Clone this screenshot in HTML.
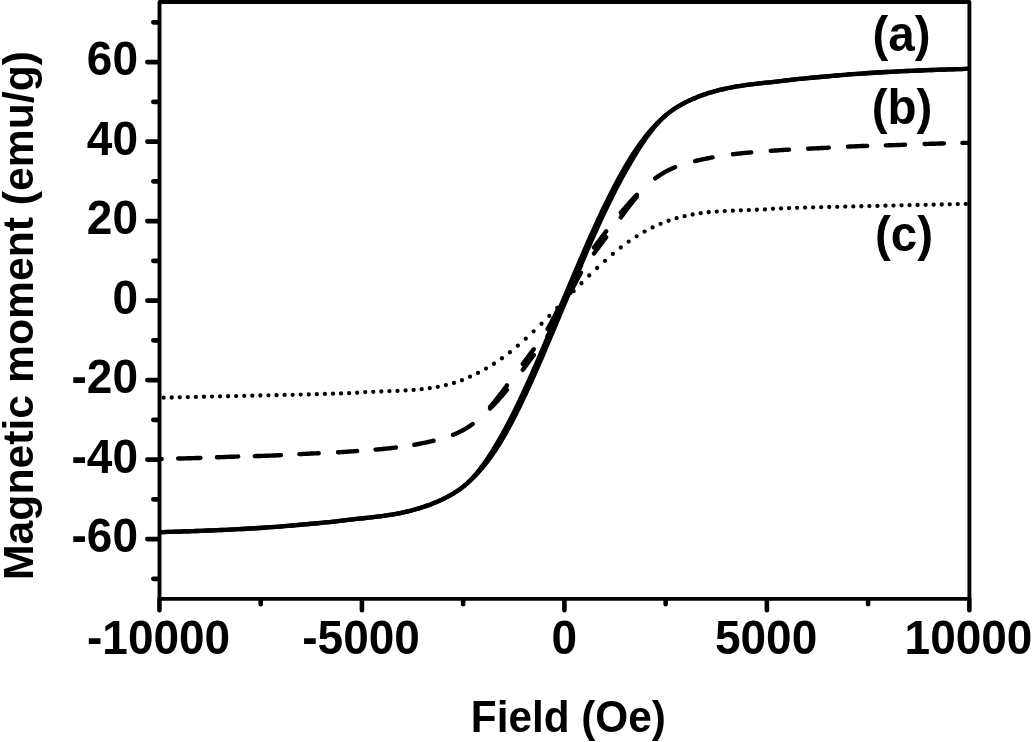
<!DOCTYPE html>
<html lang="en"><head><meta charset="utf-8"><title>Magnetic moment vs Field</title>
<style>html,body{margin:0;padding:0;background:#fff;}body{width:1032px;height:742px;overflow:hidden;}svg{display:block;filter:blur(0.4px);}text{font-family:"Liberation Sans",sans-serif;font-weight:bold;fill:#000;}</style>
</head><body>
<svg width="1032" height="742" viewBox="0 0 1032 742">
<rect x="0" y="0" width="1032" height="742" fill="#fff"/>
<g fill="none" stroke="#000" stroke-linejoin="round">
<path d="M159.50 532.20 L163.65 532.08 L167.80 531.96 L171.95 531.83 L176.10 531.70 L180.25 531.56 L184.41 531.42 L188.56 531.28 L192.71 531.13 L196.86 530.98 L201.01 530.83 L205.16 530.67 L209.31 530.51 L213.46 530.34 L217.61 530.17 L221.76 529.99 L225.91 529.81 L230.06 529.61 L234.22 529.41 L238.37 529.20 L242.52 528.98 L246.67 528.75 L250.82 528.51 L254.97 528.26 L259.12 528.00 L263.27 527.74 L267.42 527.46 L271.57 527.17 L275.72 526.87 L279.87 526.55 L284.03 526.21 L288.18 525.86 L292.33 525.50 L296.48 525.13 L300.63 524.75 L304.78 524.38 L308.93 524.00 L313.08 523.62 L317.23 523.24 L321.38 522.85 L325.53 522.45 L329.68 522.03 L333.84 521.60 L337.99 521.15 L342.14 520.65 L346.29 520.14 L350.44 519.64 L354.59 519.16 L358.74 518.70 L362.89 518.26 L367.04 517.83 L371.20 517.38 L375.35 516.90 L379.50 516.39 L383.66 515.83 L387.81 515.22 L391.97 514.56 L396.13 513.83 L400.30 513.02 L404.47 512.14 L406.48 511.68 L407.81 511.37 L409.14 511.05 L410.47 510.71 L411.80 510.37 L413.14 510.02 L414.47 509.66 L415.81 509.28 L417.14 508.90 L418.48 508.50 L419.82 508.09 L421.16 507.68 L422.50 507.25 L423.84 506.80 L425.19 506.35 L426.53 505.88 L427.88 505.40 L429.23 504.91 L430.58 504.40 L431.93 503.88 L433.28 503.35 L434.63 502.80 L435.99 502.24 L437.34 501.66 L438.70 501.07 L440.06 500.46 L441.42 499.84 L442.78 499.20 L444.14 498.54 L445.51 497.86 L446.87 497.16 L448.24 496.44 L449.60 495.70 L450.97 494.92 L452.34 494.13 L453.70 493.30 L455.07 492.44 L456.44 491.55 L457.80 490.63 L459.15 489.68 L460.50 488.69 L461.84 487.66 L463.18 486.59 L464.51 485.49 L465.84 484.34 L467.16 483.15 L468.48 481.92 L469.79 480.64 L471.10 479.31 L472.40 477.94 L473.70 476.53 L474.99 475.07 L476.28 473.56 L477.57 472.02 L478.85 470.43 L480.14 468.79 L481.41 467.12 L482.69 465.41 L483.96 463.65 L485.23 461.86 L486.50 460.03 L487.77 458.15 L489.03 456.24 L490.30 454.29 L491.57 452.31 L492.83 450.29 L494.10 448.23 L495.36 446.14 L496.63 444.02 L497.90 441.86 L499.17 439.66 L500.44 437.44 L501.72 435.18 L503.00 432.88 L504.28 430.56 L505.56 428.21 L506.85 425.82 L508.13 423.41 L509.41 420.96 L510.69 418.49 L511.97 415.98 L513.25 413.45 L514.53 410.89 L515.80 408.30 L517.08 405.69 L518.36 403.05 L519.63 400.38 L520.91 397.69 L522.19 394.97 L523.47 392.23 L524.75 389.46 L526.02 386.67 L527.30 383.86 L528.59 381.03 L529.87 378.17 L531.15 375.29 L532.44 372.39 L533.72 369.46 L535.01 366.52 L536.30 363.56 L537.59 360.59 L538.88 357.59 L540.17 354.58 L541.46 351.56 L542.76 348.52 L544.05 345.47 L545.35 342.40 L546.65 339.33 L547.95 336.24 L549.25 333.15 L550.56 330.05 L551.86 326.94 L553.17 323.82 L554.47 320.70 L555.78 317.58 L557.09 314.45 L558.40 311.32 L559.71 308.21 L561.02 305.12 L562.33 302.04 L563.65 298.96 L564.96 295.88 L566.27 292.79 L567.59 289.68 L568.91 286.55 L570.22 283.42 L571.54 280.30 L572.86 277.18 L574.17 274.06 L575.49 270.95 L576.81 267.85 L578.13 264.76 L579.45 261.67 L580.77 258.60 L582.09 255.53 L583.41 252.48 L584.73 249.44 L586.05 246.42 L587.37 243.41 L588.69 240.41 L590.01 237.44 L591.33 234.48 L592.65 231.54 L593.98 228.61 L595.30 225.71 L596.62 222.83 L597.94 219.97 L599.26 217.14 L600.58 214.33 L601.91 211.54 L603.23 208.77 L604.55 206.03 L605.87 203.31 L607.19 200.62 L608.52 197.95 L609.84 195.31 L611.16 192.70 L612.48 190.11 L613.80 187.55 L615.13 185.02 L616.45 182.51 L617.77 180.04 L619.09 177.59 L620.41 175.18 L621.74 172.79 L623.06 170.44 L624.39 168.12 L625.72 165.82 L627.05 163.56 L628.40 161.34 L629.74 159.14 L631.10 156.98 L632.45 154.86 L633.81 152.77 L635.18 150.71 L636.55 148.69 L637.92 146.71 L639.29 144.76 L640.66 142.85 L642.04 140.97 L643.42 139.14 L644.80 137.35 L646.18 135.59 L647.56 133.88 L648.94 132.21 L650.32 130.57 L651.71 128.98 L653.09 127.44 L654.47 125.93 L655.84 124.47 L657.22 123.06 L658.59 121.69 L659.97 120.36 L661.33 119.08 L662.70 117.85 L664.06 116.66 L665.42 115.51 L666.78 114.41 L668.13 113.34 L669.47 112.31 L670.81 111.32 L672.15 110.37 L673.48 109.45 L674.80 108.56 L676.12 107.70 L677.45 106.87 L678.77 106.08 L680.09 105.30 L681.41 104.56 L682.73 103.84 L684.06 103.14 L685.38 102.46 L686.70 101.80 L688.02 101.16 L689.35 100.54 L690.67 99.93 L691.99 99.34 L693.31 98.76 L694.63 98.20 L695.96 97.65 L697.28 97.12 L698.60 96.60 L699.92 96.09 L701.25 95.60 L702.57 95.12 L703.89 94.65 L705.21 94.20 L706.53 93.75 L707.86 93.32 L709.18 92.91 L710.50 92.50 L711.82 92.10 L713.14 91.72 L714.47 91.34 L715.79 90.98 L717.11 90.63 L718.43 90.29 L719.76 89.95 L721.08 89.63 L722.40 89.32 L724.40 88.86 L728.55 87.98 L732.71 87.17 L736.86 86.44 L741.01 85.77 L745.16 85.17 L749.32 84.61 L753.47 84.10 L757.62 83.62 L761.77 83.17 L765.93 82.73 L770.08 82.29 L774.23 81.84 L778.38 81.36 L782.54 80.85 L786.69 80.35 L790.84 79.85 L794.99 79.39 L799.15 78.96 L803.30 78.55 L807.45 78.15 L811.60 77.76 L815.76 77.38 L819.91 77.00 L824.06 76.62 L828.21 76.24 L832.37 75.87 L836.52 75.50 L840.67 75.13 L844.82 74.78 L848.98 74.45 L853.13 74.12 L857.28 73.82 L861.43 73.54 L865.59 73.26 L869.74 72.99 L873.89 72.73 L878.04 72.49 L882.20 72.25 L886.35 72.02 L890.50 71.80 L894.65 71.59 L898.81 71.38 L902.96 71.19 L907.11 71.01 L911.26 70.83 L915.42 70.65 L919.57 70.49 L923.72 70.33 L927.87 70.17 L932.03 70.02 L936.18 69.86 L940.33 69.72 L944.48 69.57 L948.64 69.43 L952.79 69.30 L956.94 69.17 L961.09 69.04 L965.25 68.92 L969.40 68.80" stroke-width="4.3" stroke-linecap="butt"/>
<path d="M159.50 532.20 L163.65 532.08 L167.80 531.96 L171.95 531.83 L176.10 531.70 L180.25 531.56 L184.41 531.42 L188.56 531.28 L192.71 531.13 L196.86 530.98 L201.01 530.83 L205.16 530.67 L209.31 530.51 L213.46 530.34 L217.61 530.17 L221.76 529.99 L225.91 529.81 L230.06 529.61 L234.22 529.41 L238.37 529.20 L242.52 528.98 L246.67 528.75 L250.82 528.51 L254.97 528.26 L259.12 528.00 L263.27 527.74 L267.42 527.46 L271.57 527.17 L275.72 526.87 L279.87 526.55 L284.03 526.21 L288.18 525.86 L292.33 525.50 L296.48 525.13 L300.63 524.75 L304.78 524.38 L308.93 524.00 L313.08 523.62 L317.23 523.24 L321.38 522.85 L325.53 522.45 L329.68 522.03 L333.84 521.60 L337.99 521.15 L342.14 520.65 L346.29 520.14 L350.44 519.64 L354.59 519.16 L358.74 518.70 L362.89 518.26 L367.04 517.83 L371.20 517.38 L375.35 516.90 L379.50 516.39 L383.66 515.83 L387.81 515.22 L391.97 514.56 L396.13 513.83 L400.30 513.02 L404.47 512.14 L406.48 511.68 L407.81 511.37 L409.14 511.05 L410.47 510.71 L411.80 510.37 L413.14 510.02 L414.47 509.66 L415.81 509.28 L417.14 508.90 L418.48 508.50 L419.82 508.09 L421.16 507.68 L422.50 507.25 L423.84 506.80 L425.19 506.35 L426.53 505.88 L427.88 505.40 L429.23 504.91 L430.58 504.40 L431.93 503.88 L433.28 503.35 L434.63 502.80 L435.99 502.24 L437.34 501.66 L438.70 501.07 L440.06 500.46 L441.42 499.84 L442.78 499.20 L444.14 498.54 L445.51 497.86 L446.87 497.16 L448.24 496.44 L449.60 495.70 L450.97 494.92 L452.34 494.13 L453.70 493.30 L455.07 492.44 L456.44 491.55 L457.81 490.63 L459.19 489.68 L460.58 488.69 L461.97 487.66 L463.36 486.59 L464.76 485.49 L466.16 484.34 L467.56 483.15 L468.97 481.92 L470.37 480.64 L471.78 479.31 L473.19 477.94 L474.59 476.53 L476.00 475.07 L477.40 473.56 L478.81 472.02 L480.21 470.43 L481.61 468.79 L483.01 467.12 L484.40 465.41 L485.79 463.65 L487.18 461.86 L488.56 460.03 L489.94 458.15 L491.31 456.24 L492.67 454.29 L494.04 452.31 L495.39 450.29 L496.74 448.23 L498.08 446.14 L499.42 444.02 L500.75 441.86 L502.07 439.66 L503.38 437.44 L504.69 435.18 L505.99 432.88 L507.28 430.56 L508.56 428.21 L509.85 425.82 L511.13 423.41 L512.41 420.96 L513.69 418.49 L514.97 415.98 L516.25 413.45 L517.53 410.89 L518.80 408.30 L520.08 405.69 L521.36 403.05 L522.63 400.38 L523.91 397.69 L525.19 394.97 L526.47 392.23 L527.75 389.46 L529.02 386.67 L530.30 383.86 L531.59 381.03 L532.87 378.17 L534.15 375.29 L535.44 372.39 L536.72 369.46 L538.01 366.52 L539.30 363.56 L540.59 360.59 L541.88 357.59 L543.17 354.58 L544.46 351.56 L545.76 348.52 L547.05 345.47 L548.35 342.40 L549.65 339.33 L550.95 336.24 L552.25 333.15 L553.56 330.05 L554.86 326.94 L556.17 323.82 L557.47 320.70 L558.78 317.58 L560.09 314.45 L561.40 311.32 L562.71 308.21 L564.02 305.12 L565.33 302.04 L566.65 298.96 L567.96 295.88 L569.27 292.79 L570.59 289.68 L571.91 286.55 L573.22 283.42 L574.54 280.30 L575.86 277.18 L577.17 274.06 L578.49 270.95 L579.81 267.85 L581.13 264.76 L582.45 261.67 L583.77 258.60 L585.09 255.53 L586.41 252.48 L587.73 249.44 L589.05 246.42 L590.37 243.41 L591.69 240.41 L593.01 237.44 L594.33 234.48 L595.65 231.54 L596.98 228.61 L598.30 225.71 L599.62 222.83 L600.94 219.97 L602.26 217.14 L603.58 214.33 L604.91 211.54 L606.23 208.77 L607.55 206.03 L608.87 203.31 L610.19 200.62 L611.52 197.95 L612.84 195.31 L614.16 192.70 L615.48 190.11 L616.80 187.55 L618.13 185.02 L619.45 182.51 L620.77 180.04 L622.09 177.59 L623.41 175.18 L624.74 172.79 L626.06 170.44 L627.38 168.12 L628.69 165.82 L630.00 163.56 L631.30 161.34 L632.59 159.14 L633.89 156.98 L635.17 154.86 L636.46 152.77 L637.74 150.71 L639.02 148.69 L640.29 146.71 L641.56 144.76 L642.83 142.85 L644.10 140.97 L645.36 139.14 L646.63 137.35 L647.89 135.59 L649.16 133.88 L650.42 132.21 L651.68 130.57 L652.94 128.98 L654.21 127.44 L655.47 125.93 L656.74 124.47 L658.01 123.06 L659.28 121.69 L660.55 120.36 L661.83 119.08 L663.10 117.85 L664.39 116.66 L665.67 115.51 L666.96 114.41 L668.25 113.34 L669.55 112.31 L670.86 111.32 L672.17 110.37 L673.48 109.45 L674.80 108.56 L676.12 107.70 L677.45 106.87 L678.77 106.08 L680.09 105.30 L681.41 104.56 L682.73 103.84 L684.06 103.14 L685.38 102.46 L686.70 101.80 L688.02 101.16 L689.35 100.54 L690.67 99.93 L691.99 99.34 L693.31 98.76 L694.63 98.20 L695.96 97.65 L697.28 97.12 L698.60 96.60 L699.92 96.09 L701.25 95.60 L702.57 95.12 L703.89 94.65 L705.21 94.20 L706.53 93.75 L707.86 93.32 L709.18 92.91 L710.50 92.50 L711.82 92.10 L713.14 91.72 L714.47 91.34 L715.79 90.98 L717.11 90.63 L718.43 90.29 L719.76 89.95 L721.08 89.63 L722.40 89.32 L724.40 88.86 L728.55 87.98 L732.71 87.17 L736.86 86.44 L741.01 85.77 L745.16 85.17 L749.32 84.61 L753.47 84.10 L757.62 83.62 L761.77 83.17 L765.93 82.73 L770.08 82.29 L774.23 81.84 L778.38 81.36 L782.54 80.85 L786.69 80.35 L790.84 79.85 L794.99 79.39 L799.15 78.96 L803.30 78.55 L807.45 78.15 L811.60 77.76 L815.76 77.38 L819.91 77.00 L824.06 76.62 L828.21 76.24 L832.37 75.87 L836.52 75.50 L840.67 75.13 L844.82 74.78 L848.98 74.45 L853.13 74.12 L857.28 73.82 L861.43 73.54 L865.59 73.26 L869.74 72.99 L873.89 72.73 L878.04 72.49 L882.20 72.25 L886.35 72.02 L890.50 71.80 L894.65 71.59 L898.81 71.38 L902.96 71.19 L907.11 71.01 L911.26 70.83 L915.42 70.65 L919.57 70.49 L923.72 70.33 L927.87 70.17 L932.03 70.02 L936.18 69.86 L940.33 69.72 L944.48 69.57 L948.64 69.43 L952.79 69.30 L956.94 69.17 L961.09 69.04 L965.25 68.92 L969.40 68.80" stroke-width="4.3" stroke-linecap="butt"/>
<path d="M593.98 247.57 L594.85 246.41 L595.72 245.24 L596.58 244.08 L597.45 242.92 L598.31 241.76 L599.18 240.60 L600.04 239.44 L600.91 238.28 L601.78 237.12 L602.64 235.96 L603.51 234.80 L604.38 233.65 L605.24 232.49 L606.11 231.34 M593.98 253.47 L594.85 252.30 L595.72 251.14 L596.58 249.98 L597.45 248.82 L598.31 247.66 L599.18 246.50 L600.04 245.34 L600.91 244.18 L601.78 243.02 L602.64 241.85 L603.51 240.69 L604.38 239.53 L605.24 238.37 L606.11 237.20 M620.82 212.73 L621.73 211.64 L622.65 210.56 L623.57 209.48 L624.49 208.40 L625.41 207.32 L626.34 206.25 L627.27 205.19 L628.21 204.13 L629.15 203.07 L630.10 202.02 L631.05 200.98 L632.00 199.93 L632.96 198.89 L633.93 197.86 L634.90 196.83 L635.88 195.81 L636.87 194.79 M620.82 217.32 L621.73 216.09 L622.65 214.86 L623.57 213.63 L624.49 212.40 L625.41 211.18 L626.34 209.95 L627.27 208.73 L628.21 207.50 L629.15 206.28 L630.10 205.07 L631.05 203.85 L632.00 202.64 L632.96 201.44 L633.93 200.24 L634.90 199.05 L635.88 197.86 L636.87 196.68 M655.27 178.34 L656.41 177.49 L657.57 176.67 L658.74 175.86 L659.92 175.07 L661.12 174.30 L662.33 173.55 L663.55 172.82 L664.79 172.12 L666.04 171.43 L667.29 170.77 L668.56 170.13 L669.84 169.50 L671.13 168.90 L672.43 168.32 L673.74 167.76 L675.06 167.22 M695.02 161.09 L696.47 160.74 L697.93 160.40 L699.38 160.07 L700.84 159.74 L702.30 159.42 L703.76 159.11 L705.22 158.81 L706.68 158.51 L708.15 158.22 L709.61 157.93 L711.08 157.66 L712.55 157.39 M732.96 154.29 L734.37 154.11 L735.77 153.94 L737.17 153.78 L738.58 153.62 L739.98 153.47 L741.38 153.31 L742.79 153.17 L744.19 153.02 L745.60 152.88 L747.01 152.75 L748.41 152.61 L749.82 152.49 L751.23 152.36 M770.77 150.86 L772.18 150.76 L773.58 150.66 L774.98 150.56 L776.39 150.46 L777.79 150.36 L779.20 150.26 L780.60 150.16 L782.00 150.06 L783.41 149.97 L784.81 149.88 L786.21 149.79 L787.62 149.70 L789.02 149.61 M808.18 148.68 L809.65 148.62 L811.13 148.55 L812.60 148.49 L814.08 148.42 L815.55 148.35 L817.03 148.29 L818.50 148.21 L819.98 148.14 L821.45 148.07 L822.93 147.99 L824.40 147.91 L825.87 147.83 L827.35 147.75 L828.82 147.67 M847.98 146.62 L849.46 146.55 L850.94 146.48 L852.42 146.41 L853.90 146.35 L855.38 146.29 L856.86 146.23 L858.34 146.17 L859.82 146.12 L861.30 146.07 L862.78 146.02 L864.26 145.97 L865.74 145.93 L867.22 145.88 M885.78 145.38 L887.27 145.34 L888.76 145.30 L890.24 145.26 L891.73 145.21 L893.22 145.17 L894.71 145.12 L896.20 145.07 L897.68 145.02 L899.17 144.97 L900.66 144.92 L902.15 144.87 L903.63 144.81 L905.12 144.76 M924.58 144.02 L926.07 143.97 L927.55 143.92 L929.04 143.86 L930.53 143.81 L932.02 143.77 L933.51 143.72 L934.99 143.68 L936.48 143.63 L937.97 143.59 L939.46 143.55 L940.94 143.50 L942.43 143.46 L943.92 143.42 M962.38 142.95 L963.64 142.92 L964.90 142.90 L966.16 142.87 L967.42 142.84 M522.79 363.93 L523.63 362.80 L524.47 361.67 L525.31 360.54 L526.16 359.40 L527.00 358.27 L527.84 357.14 L528.68 356.01 L529.52 354.88 L530.36 353.75 L531.19 352.62 L532.03 351.49 L532.87 350.36 L533.72 349.23 M522.79 369.80 L523.63 368.68 L524.47 367.55 L525.31 366.42 L526.16 365.30 L527.00 364.17 L527.84 363.04 L528.68 361.91 L529.52 360.78 L530.36 359.65 L531.19 358.52 L532.03 357.39 L532.87 356.26 L533.72 355.13 M490.15 406.95 L491.13 405.79 L492.11 404.63 L493.08 403.46 L494.04 402.29 L494.99 401.11 L495.94 399.92 L496.88 398.73 L497.82 397.53 L498.76 396.33 L499.68 395.12 L500.61 393.92 L501.53 392.71 L502.45 391.49 L503.36 390.28 L504.27 389.07 L505.17 387.85 L506.08 386.63 L506.98 385.42 M490.15 408.56 L491.13 407.56 L492.11 406.55 L493.08 405.54 L494.04 404.53 L494.99 403.51 L495.94 402.48 L496.88 401.45 L497.82 400.42 L498.76 399.38 L499.68 398.34 L500.61 397.29 L501.53 396.24 L502.45 395.19 L503.36 394.13 L504.27 393.07 L505.17 392.00 L506.08 390.93 L506.98 389.85 M453.05 434.84 L454.35 434.32 L455.65 433.77 L456.94 433.20 L458.22 432.61 L459.49 432.00 L460.75 431.37 L462.00 430.72 L463.24 430.05 L464.47 429.36 L465.68 428.65 L466.89 427.91 L468.08 427.16 L469.26 426.39 L470.43 425.59 L471.58 424.78 L472.72 423.95 M414.35 444.75 L415.73 444.51 L417.11 444.25 L418.49 444.00 L419.87 443.73 L421.25 443.46 L422.62 443.19 L424.00 442.91 L425.37 442.62 L426.74 442.32 L428.11 442.02 L429.48 441.72 L430.85 441.40 L432.21 441.08 L433.58 440.75 M375.57 449.61 L377.03 449.49 L378.49 449.36 L379.94 449.23 L381.40 449.09 L382.85 448.95 L384.31 448.81 L385.77 448.66 L387.22 448.51 L388.67 448.35 L390.13 448.19 L391.58 448.02 L393.03 447.85 L394.48 447.68 L395.94 447.50 M338.08 452.28 L339.54 452.20 L341.01 452.11 L342.47 452.02 L343.94 451.93 L345.41 451.83 L346.87 451.73 L348.34 451.63 L349.80 451.53 L351.27 451.43 L352.73 451.32 L354.20 451.21 L355.66 451.11 L357.13 451.00 M299.38 454.16 L300.86 454.08 L302.35 454.00 L303.84 453.92 L305.33 453.84 L306.82 453.76 L308.30 453.68 L309.79 453.61 L311.28 453.54 L312.77 453.47 L314.26 453.40 L315.74 453.33 L317.23 453.27 L318.72 453.20 M254.78 456.11 L256.23 456.07 L257.68 456.03 L259.14 455.99 L260.59 455.95 L262.04 455.90 L263.50 455.86 L264.95 455.81 L266.40 455.77 L267.85 455.72 L269.31 455.67 L270.76 455.62 L272.21 455.56 L273.66 455.50 L275.12 455.44 L276.57 455.38 L278.02 455.31 L279.47 455.24 L280.92 455.17 M216.98 457.30 L218.39 457.24 L219.81 457.19 L221.23 457.13 L222.64 457.08 L224.06 457.03 L225.47 456.97 L226.89 456.92 L228.31 456.87 L229.72 456.82 L231.14 456.77 L232.56 456.73 L233.97 456.68 L235.39 456.64 L236.80 456.59 L238.22 456.55 M178.18 458.56 L179.66 458.52 L181.15 458.48 L182.63 458.44 L184.11 458.40 L185.59 458.36 L187.08 458.32 L188.56 458.28 L190.04 458.23 L191.53 458.19 L193.01 458.15 L194.49 458.10 L195.97 458.06 L197.46 458.01 L198.94 457.96 L200.42 457.91 M161.38 458.96 L161.62 458.95 M547.56 328.99 L548.32 327.68 L549.06 326.38 L549.79 325.08 L550.51 323.78 L551.22 322.47 L551.93 321.16 L552.63 319.84 L553.32 318.53 L554.00 317.22 L554.67 315.92 L555.34 314.61 L556.00 313.30 L556.66 311.99 L557.32 310.68 L557.97 309.36 L558.61 308.05 M547.56 336.03 L548.32 334.88 L549.06 333.72 L549.79 332.57 L550.51 331.40 L551.22 330.23 L551.93 329.04 L552.63 327.84 L553.32 326.64 L554.00 325.43 L554.67 324.22 L555.34 323.00 L556.00 321.77 L556.66 320.53 L557.32 319.29 L557.97 318.04 L558.61 316.80 M570.39 284.01 L571.05 282.74 L571.71 281.47 L572.38 280.20 L573.06 278.94 L573.74 277.69 L574.42 276.46 L575.11 275.22 L575.81 273.99 L576.52 272.77 L577.23 271.55 L577.95 270.34 L578.68 269.15 L579.42 267.97 L580.18 266.79 L580.94 265.61 M570.39 292.74 L571.05 291.40 L571.71 290.06 L572.38 288.72 L573.06 287.38 L573.74 286.05 L574.42 284.72 L575.11 283.39 L575.81 282.05 L576.52 280.71 L577.23 279.37 L577.95 278.03 L578.68 276.70 L579.42 275.38 L580.18 274.05 L580.94 272.72" stroke-width="4.4" stroke-linecap="round"/>
<path d="M965.80 203.90h0.01 M957.77 204.10h0.01 M949.73 204.29h0.01 M941.70 204.48h0.01 M933.66 204.66h0.01 M925.63 204.84h0.01 M917.59 205.01h0.01 M909.56 205.18h0.01 M901.52 205.35h0.01 M893.49 205.53h0.01 M885.45 205.71h0.01 M877.42 205.89h0.01 M869.38 206.07h0.01 M861.35 206.25h0.01 M853.31 206.43h0.01 M845.28 206.61h0.01 M837.24 206.79h0.01 M829.21 206.98h0.01 M821.17 207.18h0.01 M813.14 207.38h0.01 M805.10 207.60h0.01 M797.07 207.84h0.01 M789.03 208.09h0.01 M781.00 208.38h0.01 M772.96 208.76h0.01 M764.93 209.42h0.01 M756.90 209.73h0.01 M748.86 210.03h0.01 M740.83 210.34h0.01 M732.79 210.66h0.01 M724.76 211.04h0.01 M716.72 211.56h0.01 M708.69 212.26h0.01 M700.66 213.22h0.01 M692.63 214.49h0.01 M684.60 216.13h0.01 M676.58 218.20h0.01 M668.57 220.76h0.01 M660.56 223.83h0.01 M652.57 227.44h0.01 M644.59 231.59h0.01 M636.63 236.32h0.01 M628.68 241.62h0.01 M620.76 247.51h0.01 M612.86 253.92h0.01 M604.98 260.78h0.01 M597.11 268.00h0.01 M589.26 275.52h0.01 M581.42 283.27h0.01 M573.59 291.18h0.01 M163.60 397.68h0.01 M171.66 397.48h0.01 M179.73 397.29h0.01 M187.79 397.10h0.01 M195.86 396.92h0.01 M203.92 396.75h0.01 M211.99 396.58h0.01 M220.05 396.40h0.01 M228.12 396.23h0.01 M236.18 396.05h0.01 M244.25 395.87h0.01 M252.31 395.69h0.01 M260.38 395.50h0.01 M268.44 395.32h0.01 M276.51 395.15h0.01 M284.57 394.97h0.01 M292.64 394.78h0.01 M300.70 394.59h0.01 M308.77 394.40h0.01 M316.83 394.19h0.01 M324.90 393.96h0.01 M332.96 393.72h0.01 M341.03 393.47h0.01 M349.09 393.17h0.01 M357.16 392.74h0.01 M365.22 392.12h0.01 M373.28 391.82h0.01 M381.35 391.52h0.01 M389.41 391.21h0.01 M397.48 390.88h0.01 M405.54 390.47h0.01 M413.61 389.93h0.01 M421.67 389.17h0.01 M429.73 388.16h0.01 M437.79 386.82h0.01 M445.85 385.09h0.01 M453.90 382.91h0.01 M461.94 380.23h0.01 M469.97 376.63h0.01 M477.99 372.90h0.01 M486.00 368.60h0.01 M493.98 363.73h0.01 M501.95 358.27h0.01 M509.90 352.23h0.01 M517.83 345.68h0.01 M525.73 338.70h0.01 M533.63 331.37h0.01 M541.50 323.76h0.01 M549.37 315.93h0.01 M557.23 307.97h0.01" stroke-width="4.3" stroke-linecap="round"/>
</g>
<rect x="159.5" y="2.0" width="809.9" height="596.9" fill="none" stroke="#000" stroke-width="3.9" stroke-linejoin="round"/>
<path d="M153.3 578.85H158.5 M147.3 539.10H158.5 M153.3 499.35H158.5 M147.3 459.60H158.5 M153.3 419.85H158.5 M147.3 380.10H158.5 M153.3 340.35H158.5 M147.3 300.60H158.5 M153.3 260.85H158.5 M147.3 221.10H158.5 M153.3 181.35H158.5 M147.3 141.60H158.5 M153.3 101.85H158.5 M147.3 62.10H158.5 M153.3 22.35H158.5 M159.45 599.4V610.2 M260.69 599.4V604.2 M361.92 599.4V610.2 M463.16 599.4V604.2 M564.40 599.4V610.2 M665.64 599.4V604.2 M766.88 599.4V610.2 M868.11 599.4V604.2 M969.35 599.4V610.2" fill="none" stroke="#000" stroke-width="4.6" stroke-linecap="round"/>
<text transform="translate(138 552.0) scale(1 1.045)" font-size="46" text-anchor="end">-60</text>
<text transform="translate(138 472.5) scale(1 1.045)" font-size="46" text-anchor="end">-40</text>
<text transform="translate(138 393.0) scale(1 1.045)" font-size="46" text-anchor="end">-20</text>
<text transform="translate(138 313.5) scale(1 1.045)" font-size="46" text-anchor="end">0</text>
<text transform="translate(138 234.0) scale(1 1.045)" font-size="46" text-anchor="end">20</text>
<text transform="translate(138 154.5) scale(1 1.045)" font-size="46" text-anchor="end">40</text>
<text transform="translate(138 75.0) scale(1 1.045)" font-size="46" text-anchor="end">60</text>
<text transform="translate(158.6 654.1) scale(1 1.045)" font-size="46" text-anchor="middle">-10000</text>
<text transform="translate(361.1 654.1) scale(1 1.045)" font-size="46" text-anchor="middle">-5000</text>
<text transform="translate(564.4 654.1) scale(1 1.045)" font-size="46" text-anchor="middle">0</text>
<text transform="translate(766.1 654.1) scale(1 1.045)" font-size="46" text-anchor="middle">5000</text>
<text transform="translate(968.5 654.1) scale(1 1.045)" font-size="46" text-anchor="middle">10000</text>
<text transform="translate(568.3 732.3) scale(1 1.03)" font-size="42.3" text-anchor="middle">Field (Oe)</text>
<text transform="translate(33 315.5) rotate(-90)" font-size="42.7" text-anchor="middle">Magnetic moment (emu/g)</text>
<text transform="translate(901.5 51) scale(1 1.06)" font-size="47.5" text-anchor="middle">(a)</text>
<text transform="translate(902 123.5) scale(1 1.06)" font-size="47.5" text-anchor="middle">(b)</text>
<text transform="translate(904 250.5) scale(1 1.06)" font-size="47.5" text-anchor="middle">(c)</text>
</svg></body></html>
